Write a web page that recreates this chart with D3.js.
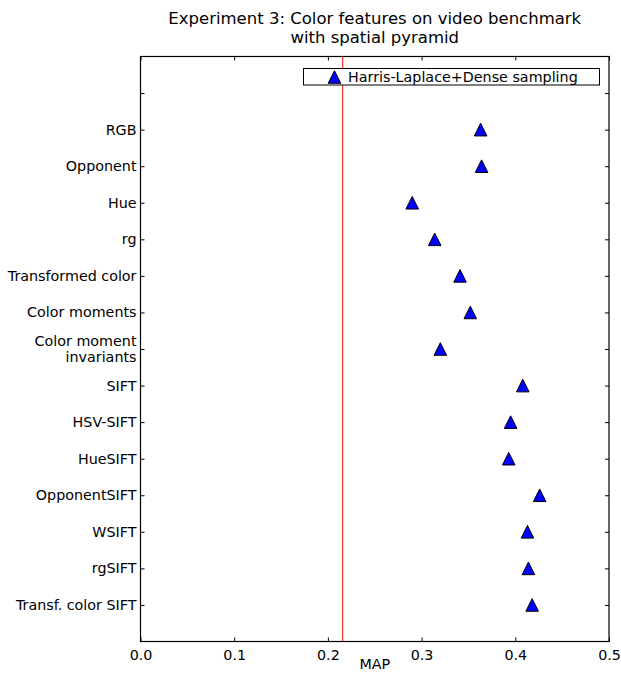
<!DOCTYPE html>
<html><head><meta charset="utf-8">
<script src="https://cdn.jsdelivr.net/npm/d3@7"></script>
<style>body{margin:0;background:#fff;} text{font-family:"DejaVu Sans",sans-serif;fill:#000;}</style>
</head><body>
<svg id="c" width="621" height="675"></svg>
<script>
const categories = ["RGB","Opponent","Hue","rg","Transformed color","Color moments","Color moment\ninvariants","SIFT","HSV-SIFT","HueSIFT","OpponentSIFT","WSIFT","rgSIFT","Transf. color SIFT"];
const mapValues = [0.363,0.364,0.290,0.314,0.341,0.352,0.320,0.408,0.395,0.393,0.426,0.413,0.414,0.418];
const baseline = 0.2158;
const xTicks = [0.0,0.1,0.2,0.3,0.4,0.5];
const seriesName = "Harris-Laplace+Dense sampling";
const titleLines = ["Experiment 3: Color features on video benchmark","with spatial pyramid"];

const svg = d3.select("#c");
const L = 140.5, R = 609, T = 56.5, B = 641.5;
const x = d3.scaleLinear().domain([0,0.5]).range([L,R]);
const y = d3.scaleLinear().domain([0,16]).range([B,T]);
const n = categories.length;
const yPos = i => n - i;
const yTicks = d3.range(1,16);
const fs = "14.3px";

// title
svg.append("text").attr("x",(L+R)/2).attr("y",24).attr("text-anchor","middle").attr("font-size","16.5px").text(titleLines[0]);
svg.append("text").attr("x",(L+R)/2).attr("y",43).attr("text-anchor","middle").attr("font-size","16.5px").text(titleLines[1]);

// red line
svg.append("line").attr("x1",x(baseline)).attr("x2",x(baseline)).attr("y1",T).attr("y2",B).attr("stroke","#ff0000").attr("stroke-width",1);

// axes
const tl = 4;
const xb = svg.append("g").attr("transform",`translate(0,${B})`).call(d3.axisBottom(x).tickValues(xTicks).tickFormat(d3.format(".1f")).tickSizeInner(-tl).tickSizeOuter(0).tickPadding(8));
const xt = svg.append("g").attr("transform",`translate(0,${T})`).call(d3.axisTop(x).tickValues(xTicks).tickFormat("").tickSizeInner(-tl).tickSizeOuter(0));
const yl = svg.append("g").attr("transform",`translate(${L},0)`).call(d3.axisLeft(y).tickValues(yTicks).tickFormat("").tickSizeInner(-tl).tickSizeOuter(0));
const yr = svg.append("g").attr("transform",`translate(${R},0)`).call(d3.axisRight(y).tickValues(yTicks).tickFormat("").tickSizeInner(-tl).tickSizeOuter(0));
[xb,xt,yl,yr].forEach(g=>{g.selectAll(".domain").remove();g.selectAll("line").attr("stroke","#000").attr("stroke-width",1);});
xb.selectAll("text").attr("font-size",fs).style("font-family","DejaVu Sans");

// frame
svg.append("rect").attr("x",L).attr("y",T).attr("width",R-L).attr("height",B-T).attr("fill","none").attr("stroke","#000").attr("stroke-width",1.2);

// y labels
categories.forEach((c,i)=>{
  const lines = c.split("\n");
  const t = svg.append("text").attr("text-anchor","end").attr("font-size",fs);
  const yc = y(yPos(i));
  const lh = 16.5;
  lines.forEach((ln,k)=>{
    t.append("tspan").attr("x",L-4).attr("y",yc + (k-(lines.length-1)/2)*lh).attr("dy","0.35em").text(ln);
  });
});

// x label
svg.append("text").attr("x",(L+R)/2).attr("y",669).attr("text-anchor","middle").attr("font-size",fs).text("MAP");

// markers
function triPath(s){ const h=s; return `M0,${-h}L${h},${h}L${-h},${h}Z`; }
svg.append("g").selectAll("path").data(mapValues).join("path")
  .attr("transform",(d,i)=>`translate(${x(d)},${y(yPos(i))})`)
  .attr("d",triPath(6.3)).attr("fill","#0000ff").attr("stroke","#000").attr("stroke-width",1);

// legend
svg.append("rect").attr("x",303.5).attr("y",68.5).attr("width",296).attr("height",16.5).attr("fill","#fff").attr("stroke","#000").attr("stroke-width",1);
svg.append("path").attr("transform","translate(334.5,77)").attr("d",triPath(6.3)).attr("fill","#0000ff").attr("stroke","#000").attr("stroke-width",1);
svg.append("text").attr("x",348).attr("y",77).attr("dy","0.35em").attr("font-size",fs).text(seriesName);
</script>
</body></html>
